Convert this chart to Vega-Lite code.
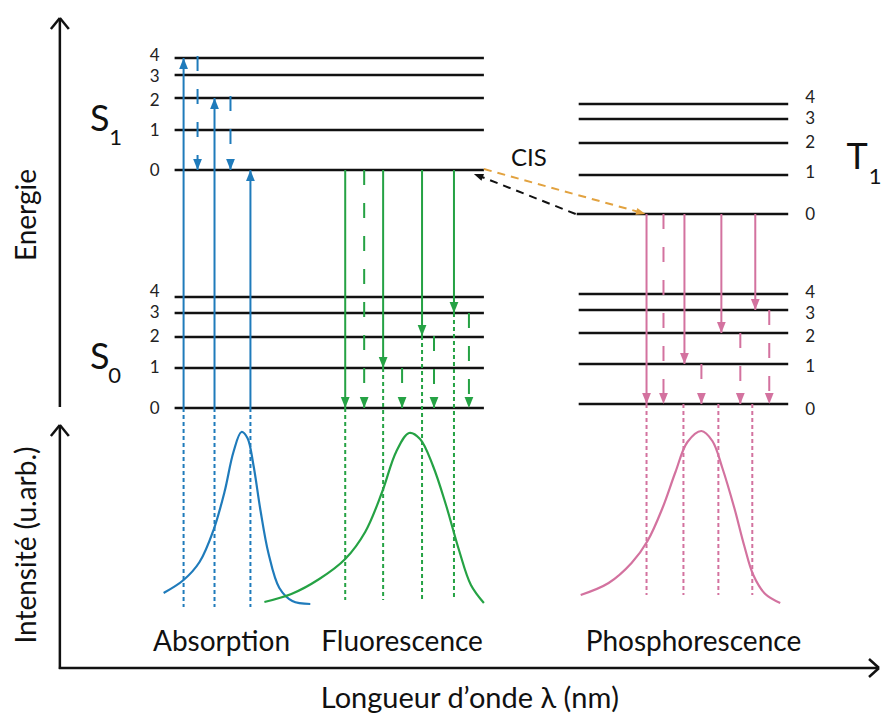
{
  "$schema": "https://vega.github.io/schema/vega-lite/v6.json",
  "width": 882,
  "height": 715,
  "autosize": {"type": "fit", "contains": "padding"},
  "padding": 0,
  "background": "white",
  "config": {"view": {"stroke": null}},
  "datasets": {
    "segs": [
      {"x": 175, "y": 58, "x2": 485, "y2": 58, "kind": "level", "grp": "lvl"},
      {"x": 175, "y": 75, "x2": 485, "y2": 75, "kind": "level", "grp": "lvl"},
      {"x": 175, "y": 98, "x2": 485, "y2": 98, "kind": "level", "grp": "lvl"},
      {"x": 175, "y": 130, "x2": 485, "y2": 130, "kind": "level", "grp": "lvl"},
      {"x": 175, "y": 170, "x2": 485, "y2": 170, "kind": "level", "grp": "lvl"},
      {"x": 175, "y": 297, "x2": 485, "y2": 297, "kind": "level", "grp": "lvl"},
      {"x": 175, "y": 313, "x2": 485, "y2": 313, "kind": "level", "grp": "lvl"},
      {"x": 175, "y": 337, "x2": 485, "y2": 337, "kind": "level", "grp": "lvl"},
      {"x": 175, "y": 368, "x2": 485, "y2": 368, "kind": "level", "grp": "lvl"},
      {"x": 175, "y": 408, "x2": 485, "y2": 408, "kind": "level", "grp": "lvl"},
      {"x": 580, "y": 104, "x2": 790, "y2": 104, "kind": "level", "grp": "lvl"},
      {"x": 580, "y": 119, "x2": 790, "y2": 119, "kind": "level", "grp": "lvl"},
      {"x": 580, "y": 143, "x2": 790, "y2": 143, "kind": "level", "grp": "lvl"},
      {"x": 580, "y": 175, "x2": 790, "y2": 175, "kind": "level", "grp": "lvl"},
      {"x": 578, "y": 214, "x2": 790, "y2": 214, "kind": "level", "grp": "lvl"},
      {"x": 580, "y": 294, "x2": 790, "y2": 294, "kind": "level", "grp": "lvl"},
      {"x": 580, "y": 310, "x2": 790, "y2": 310, "kind": "level", "grp": "lvl"},
      {"x": 580, "y": 333, "x2": 790, "y2": 333, "kind": "level", "grp": "lvl"},
      {"x": 580, "y": 364, "x2": 790, "y2": 364, "kind": "level", "grp": "lvl"},
      {"x": 580, "y": 404, "x2": 790, "y2": 404, "kind": "level", "grp": "lvl"},
      {"x": 60, "y": 407, "x2": 60, "y2": 18, "kind": "axis", "grp": "lvl"},
      {"x": 51, "y": 29, "x2": 60, "y2": 18, "kind": "axis", "grp": "lvl"},
      {"x": 69, "y": 29, "x2": 60, "y2": 18, "kind": "axis", "grp": "lvl"},
      {"x": 60, "y": 669, "x2": 60, "y2": 425, "kind": "axis", "grp": "lvl"},
      {"x": 51, "y": 436, "x2": 60, "y2": 425, "kind": "axis", "grp": "lvl"},
      {"x": 69, "y": 436, "x2": 60, "y2": 425, "kind": "axis", "grp": "lvl"},
      {"x": 59, "y": 668, "x2": 881, "y2": 668, "kind": "axis", "grp": "lvl"},
      {"x": 871, "y": 659, "x2": 881, "y2": 668, "kind": "axis", "grp": "lvl"},
      {"x": 871, "y": 677, "x2": 881, "y2": 668, "kind": "axis", "grp": "lvl"},

      {"x": 184, "y": 408, "x2": 184, "y2": 58, "kind": "rad", "grp": "abs"},
      {"x": 215, "y": 408, "x2": 215, "y2": 98, "kind": "rad", "grp": "abs"},
      {"x": 251, "y": 408, "x2": 251, "y2": 170, "kind": "rad", "grp": "abs"},
      {"x": 198, "y": 56, "x2": 198, "y2": 170, "kind": "vr", "grp": "abs"},
      {"x": 231, "y": 96, "x2": 231, "y2": 170, "kind": "vr", "grp": "abs"},
      {"x": 184, "y": 408, "x2": 184, "y2": 607, "kind": "proj", "grp": "abs"},
      {"x": 215, "y": 408, "x2": 215, "y2": 607, "kind": "proj", "grp": "abs"},
      {"x": 251, "y": 408, "x2": 251, "y2": 607, "kind": "proj", "grp": "abs"},

      {"x": 346, "y": 170, "x2": 346, "y2": 408, "kind": "rad", "grp": "fluo"},
      {"x": 384, "y": 170, "x2": 384, "y2": 368, "kind": "rad", "grp": "fluo"},
      {"x": 423, "y": 170, "x2": 423, "y2": 336, "kind": "rad", "grp": "fluo"},
      {"x": 455, "y": 170, "x2": 455, "y2": 313, "kind": "rad", "grp": "fluo"},
      {"x": 365, "y": 170, "x2": 365, "y2": 408, "kind": "vr", "grp": "fluo"},
      {"x": 403, "y": 368, "x2": 403, "y2": 408, "kind": "vr", "grp": "fluo"},
      {"x": 435, "y": 336, "x2": 435, "y2": 408, "kind": "vr", "grp": "fluo"},
      {"x": 470, "y": 313, "x2": 470, "y2": 408, "kind": "vr", "grp": "fluo"},
      {"x": 346, "y": 408, "x2": 346, "y2": 600, "kind": "proj", "grp": "fluo"},
      {"x": 384, "y": 368, "x2": 384, "y2": 600, "kind": "proj", "grp": "fluo"},
      {"x": 423, "y": 336, "x2": 423, "y2": 600, "kind": "proj", "grp": "fluo"},
      {"x": 455, "y": 313, "x2": 455, "y2": 600, "kind": "proj", "grp": "fluo"},

      {"x": 648, "y": 214, "x2": 648, "y2": 404, "kind": "rad", "grp": "phos"},
      {"x": 686, "y": 214, "x2": 686, "y2": 364, "kind": "rad", "grp": "phos"},
      {"x": 723, "y": 214, "x2": 723, "y2": 333, "kind": "rad", "grp": "phos"},
      {"x": 757, "y": 214, "x2": 757, "y2": 310, "kind": "rad", "grp": "phos"},
      {"x": 665, "y": 214, "x2": 665, "y2": 404, "kind": "vr", "grp": "phos"},
      {"x": 703, "y": 364, "x2": 703, "y2": 404, "kind": "vr", "grp": "phos"},
      {"x": 742, "y": 333, "x2": 742, "y2": 404, "kind": "vr", "grp": "phos"},
      {"x": 771, "y": 310, "x2": 771, "y2": 404, "kind": "vr", "grp": "phos"},
      {"x": 648, "y": 404, "x2": 648, "y2": 595, "kind": "proj", "grp": "phos"},
      {"x": 685, "y": 404, "x2": 685, "y2": 595, "kind": "proj", "grp": "phos"},
      {"x": 720, "y": 404, "x2": 720, "y2": 595, "kind": "proj", "grp": "phos"},
      {"x": 754, "y": 404, "x2": 754, "y2": 595, "kind": "proj", "grp": "phos"},

      {"x": 485, "y": 169, "x2": 644, "y2": 213, "kind": "isc", "grp": "cis"},
      {"x": 577, "y": 214, "x2": 478, "y2": 175, "kind": "isc", "grp": "cisr"}
    ],
    "heads": [
      {"x": 184, "y": 58, "grp": "abs", "dir": "up"},
      {"x": 215, "y": 98, "grp": "abs", "dir": "up"},
      {"x": 251, "y": 170, "grp": "abs", "dir": "up"},
      {"x": 198, "y": 170, "grp": "abs", "dir": "down"},
      {"x": 231, "y": 170, "grp": "abs", "dir": "down"},
      {"x": 346, "y": 408, "grp": "fluo", "dir": "down"},
      {"x": 384, "y": 368, "grp": "fluo", "dir": "down"},
      {"x": 423, "y": 336, "grp": "fluo", "dir": "down"},
      {"x": 455, "y": 313, "grp": "fluo", "dir": "down"},
      {"x": 365, "y": 408, "grp": "fluo", "dir": "down"},
      {"x": 403, "y": 408, "grp": "fluo", "dir": "down"},
      {"x": 435, "y": 408, "grp": "fluo", "dir": "down"},
      {"x": 470, "y": 408, "grp": "fluo", "dir": "down"},
      {"x": 648, "y": 404, "grp": "phos", "dir": "down"},
      {"x": 686, "y": 364, "grp": "phos", "dir": "down"},
      {"x": 723, "y": 333, "grp": "phos", "dir": "down"},
      {"x": 757, "y": 310, "grp": "phos", "dir": "down"},
      {"x": 665, "y": 404, "grp": "phos", "dir": "down"},
      {"x": 703, "y": 404, "grp": "phos", "dir": "down"},
      {"x": 742, "y": 404, "grp": "phos", "dir": "down"},
      {"x": 771, "y": 404, "grp": "phos", "dir": "down"},
      {"x": 647, "y": 214, "grp": "cis", "dir": "cis"},
      {"x": 475, "y": 174, "grp": "cisr", "dir": "cisr"}
    ],
    "curves": [
      {"grp": "abs", "x": 164, "y": 593}, {"grp": "abs", "x": 184, "y": 580}, {"grp": "abs", "x": 200, "y": 562},
      {"grp": "abs", "x": 214, "y": 530}, {"grp": "abs", "x": 225, "y": 492}, {"grp": "abs", "x": 234, "y": 452},
      {"grp": "abs", "x": 242, "y": 432}, {"grp": "abs", "x": 248, "y": 438}, {"grp": "abs", "x": 254, "y": 465},
      {"grp": "abs", "x": 261, "y": 510}, {"grp": "abs", "x": 269, "y": 553}, {"grp": "abs", "x": 280, "y": 588},
      {"grp": "abs", "x": 293, "y": 601}, {"grp": "abs", "x": 311, "y": 604},
      {"grp": "fluo", "x": 265, "y": 602}, {"grp": "fluo", "x": 292, "y": 594}, {"grp": "fluo", "x": 320, "y": 579},
      {"grp": "fluo", "x": 346, "y": 559}, {"grp": "fluo", "x": 366, "y": 532}, {"grp": "fluo", "x": 383, "y": 492},
      {"grp": "fluo", "x": 397, "y": 452}, {"grp": "fluo", "x": 410, "y": 433}, {"grp": "fluo", "x": 421, "y": 439},
      {"grp": "fluo", "x": 434, "y": 466}, {"grp": "fluo", "x": 447, "y": 505}, {"grp": "fluo", "x": 460, "y": 550},
      {"grp": "fluo", "x": 472, "y": 585}, {"grp": "fluo", "x": 485, "y": 603},
      {"grp": "phos", "x": 582, "y": 595}, {"grp": "phos", "x": 610, "y": 583}, {"grp": "phos", "x": 633, "y": 563},
      {"grp": "phos", "x": 649, "y": 541}, {"grp": "phos", "x": 664, "y": 508}, {"grp": "phos", "x": 677, "y": 472},
      {"grp": "phos", "x": 689, "y": 442}, {"grp": "phos", "x": 703, "y": 431}, {"grp": "phos", "x": 714, "y": 441},
      {"grp": "phos", "x": 724, "y": 468}, {"grp": "phos", "x": 736, "y": 508}, {"grp": "phos", "x": 746, "y": 546},
      {"grp": "phos", "x": 755, "y": 575}, {"grp": "phos", "x": 767, "y": 594}, {"grp": "phos", "x": 782, "y": 603}
    ],
    "texts": [
      {"x": 155, "y": 56, "t": "4", "role": "num"},
      {"x": 155, "y": 77, "t": "3", "role": "num"},
      {"x": 155, "y": 101, "t": "2", "role": "num"},
      {"x": 155, "y": 131, "t": "1", "role": "num"},
      {"x": 155, "y": 171, "t": "0", "role": "num"},
      {"x": 155, "y": 292, "t": "4", "role": "num"},
      {"x": 155, "y": 313, "t": "3", "role": "num"},
      {"x": 155, "y": 337, "t": "2", "role": "num"},
      {"x": 155, "y": 368, "t": "1", "role": "num"},
      {"x": 155, "y": 409, "t": "0", "role": "num"},
      {"x": 812, "y": 98, "t": "4", "role": "num"},
      {"x": 812, "y": 119, "t": "3", "role": "num"},
      {"x": 812, "y": 143, "t": "2", "role": "num"},
      {"x": 812, "y": 173, "t": "1", "role": "num"},
      {"x": 812, "y": 215, "t": "0", "role": "num"},
      {"x": 812, "y": 293, "t": "4", "role": "num"},
      {"x": 812, "y": 314, "t": "3", "role": "num"},
      {"x": 812, "y": 337, "t": "2", "role": "num"},
      {"x": 812, "y": 367, "t": "1", "role": "num"},
      {"x": 812, "y": 410, "t": "0", "role": "num"},
      {"x": 100, "y": 131, "t": "S", "role": "state"},
      {"x": 100, "y": 369, "t": "S", "role": "state"},
      {"x": 859, "y": 169, "t": "T", "role": "state"},
      {"x": 116, "y": 145, "t": "1", "role": "sub"},
      {"x": 115, "y": 383, "t": "0", "role": "sub"},
      {"x": 877, "y": 184, "t": "1", "role": "sub"},
      {"x": 530, "y": 166, "t": "CIS", "role": "cis"},
      {"x": 222, "y": 651, "t": "Absorption", "role": "name"},
      {"x": 403, "y": 651, "t": "Fluorescence", "role": "name"},
      {"x": 695, "y": 651, "t": "Phosphorescence", "role": "name"},
      {"x": 471, "y": 708, "t": "Longueur d’onde λ (nm)", "role": "xtitle"},
      {"x": 28, "y": 215, "t": "Energie", "role": "ytitle"},
      {"x": 28, "y": 545, "t": "Intensité (u.arb.)", "role": "ytitle"}
    ]
  },
  "layer": [
    {
      "data": {"name": "segs"},
      "transform": [{"filter": "datum.grp === 'lvl'"}],
      "mark": {"type": "rule", "color": "#111111", "strokeWidth": 2.5},
      "encoding": {
        "x": {"field": "x", "type": "quantitative", "scale": {"domain": [0, 882], "nice": false, "zero": false}, "axis": null},
        "y": {"field": "y", "type": "quantitative", "scale": {"domain": [715, 0], "nice": false, "zero": false}, "axis": null},
        "x2": {"field": "x2"},
        "y2": {"field": "y2"}
      }
    },
    {
      "data": {"name": "segs"},
      "transform": [{"filter": "datum.grp !== 'lvl'"}],
      "mark": {"type": "rule", "strokeWidth": 2},
      "encoding": {
        "x": {"field": "x", "type": "quantitative", "axis": null},
        "y": {"field": "y", "type": "quantitative", "axis": null},
        "x2": {"field": "x2"},
        "y2": {"field": "y2"},
        "color": {"field": "grp", "type": "nominal", "scale": {"domain": ["abs", "fluo", "phos", "cis", "cisr"], "range": ["#1f7bbb", "#25a244", "#d3729f", "#e2a23f", "#111111"]}, "legend": null},
        "strokeDash": {"field": "kind", "type": "nominal", "scale": {"domain": ["rad", "vr", "proj", "isc"], "range": [[1, 0], [15, 18], [4, 3], [8, 6]]}, "legend": null}
      }
    },
    {
      "data": {"name": "curves"},
      "mark": {"type": "line", "strokeWidth": 2.2, "interpolate": "catmull-rom"},
      "encoding": {
        "x": {"field": "x", "type": "quantitative", "axis": null},
        "y": {"field": "y", "type": "quantitative", "axis": null},
        "color": {"field": "grp", "type": "nominal", "legend": null},
        "order": {"field": "x", "type": "quantitative"}
      }
    },
    {
      "data": {"name": "heads"},
      "transform": [{"filter": "datum.dir === 'up'"}],
      "mark": {"type": "point", "filled": true, "opacity": 1, "size": 120, "shape": "M-0.8,1L0,-1L0.8,1Z", "yOffset": 5.4},
      "encoding": {
        "x": {"field": "x", "type": "quantitative", "axis": null},
        "y": {"field": "y", "type": "quantitative", "axis": null},
        "color": {"field": "grp", "type": "nominal", "legend": null}
      }
    },
    {
      "data": {"name": "heads"},
      "transform": [{"filter": "datum.dir === 'down'"}],
      "mark": {"type": "point", "filled": true, "opacity": 1, "size": 120, "shape": "M-0.8,-1L0,1L0.8,-1Z", "yOffset": -5.4},
      "encoding": {
        "x": {"field": "x", "type": "quantitative", "axis": null},
        "y": {"field": "y", "type": "quantitative", "axis": null},
        "color": {"field": "grp", "type": "nominal", "legend": null}
      }
    },
    {
      "data": {"name": "heads"},
      "transform": [{"filter": "datum.dir === 'cis'"}],
      "mark": {"type": "point", "filled": true, "opacity": 1, "size": 90, "shape": "M-0.75,1L0,-1L0.75,1Z", "angle": 105.5, "xOffset": -4.6, "yOffset": -1.3},
      "encoding": {
        "x": {"field": "x", "type": "quantitative", "axis": null},
        "y": {"field": "y", "type": "quantitative", "axis": null},
        "color": {"field": "grp", "type": "nominal", "legend": null}
      }
    },
    {
      "data": {"name": "heads"},
      "transform": [{"filter": "datum.dir === 'cisr'"}],
      "mark": {"type": "point", "filled": true, "opacity": 1, "size": 90, "shape": "M-0.75,1L0,-1L0.75,1Z", "angle": 291.4, "xOffset": 4.4, "yOffset": 1.7},
      "encoding": {
        "x": {"field": "x", "type": "quantitative", "axis": null},
        "y": {"field": "y", "type": "quantitative", "axis": null},
        "color": {"field": "grp", "type": "nominal", "legend": null}
      }
    },
    {
      "data": {"name": "texts"},
      "transform": [{"filter": "datum.role === 'num'"}],
      "mark": {"type": "text", "font": "Lato", "fontSize": 17, "color": "#222222", "align": "center", "baseline": "middle"},
      "encoding": {
        "x": {"field": "x", "type": "quantitative", "axis": null},
        "y": {"field": "y", "type": "quantitative", "axis": null},
        "text": {"field": "t"}
      }
    },
    {
      "data": {"name": "texts"},
      "transform": [{"filter": "datum.role === 'state'"}],
      "mark": {"type": "text", "font": "Lato", "fontSize": 36, "color": "#111111", "align": "center", "baseline": "alphabetic"},
      "encoding": {
        "x": {"field": "x", "type": "quantitative", "axis": null},
        "y": {"field": "y", "type": "quantitative", "axis": null},
        "text": {"field": "t"}
      }
    },
    {
      "data": {"name": "texts"},
      "transform": [{"filter": "datum.role === 'sub'"}],
      "mark": {"type": "text", "font": "Lato", "fontSize": 22, "color": "#111111", "align": "center", "baseline": "alphabetic"},
      "encoding": {
        "x": {"field": "x", "type": "quantitative", "axis": null},
        "y": {"field": "y", "type": "quantitative", "axis": null},
        "text": {"field": "t"}
      }
    },
    {
      "data": {"name": "texts"},
      "transform": [{"filter": "datum.role === 'cis'"}],
      "mark": {"type": "text", "font": "Lato", "fontSize": 24, "color": "#111111", "align": "center", "baseline": "alphabetic"},
      "encoding": {
        "x": {"field": "x", "type": "quantitative", "axis": null},
        "y": {"field": "y", "type": "quantitative", "axis": null},
        "text": {"field": "t"}
      }
    },
    {
      "data": {"name": "texts"},
      "transform": [{"filter": "datum.role === 'name'"}],
      "mark": {"type": "text", "font": "Lato", "fontSize": 28, "color": "#111111", "align": "center", "baseline": "alphabetic"},
      "encoding": {
        "x": {"field": "x", "type": "quantitative", "axis": null},
        "y": {"field": "y", "type": "quantitative", "axis": null},
        "text": {"field": "t"}
      }
    },
    {
      "data": {"name": "texts"},
      "transform": [{"filter": "datum.role === 'xtitle'"}],
      "mark": {"type": "text", "font": "Lato", "fontSize": 29, "color": "#111111", "align": "center", "baseline": "alphabetic"},
      "encoding": {
        "x": {"field": "x", "type": "quantitative", "axis": null},
        "y": {"field": "y", "type": "quantitative", "axis": null},
        "text": {"field": "t"}
      }
    },
    {
      "data": {"name": "texts"},
      "transform": [{"filter": "datum.role === 'ytitle'"}],
      "mark": {"type": "text", "font": "Lato", "fontSize": 28, "color": "#111111", "align": "center", "baseline": "middle", "angle": 270},
      "encoding": {
        "x": {"field": "x", "type": "quantitative", "axis": null},
        "y": {"field": "y", "type": "quantitative", "axis": null},
        "text": {"field": "t"}
      }
    }
  ]
}
